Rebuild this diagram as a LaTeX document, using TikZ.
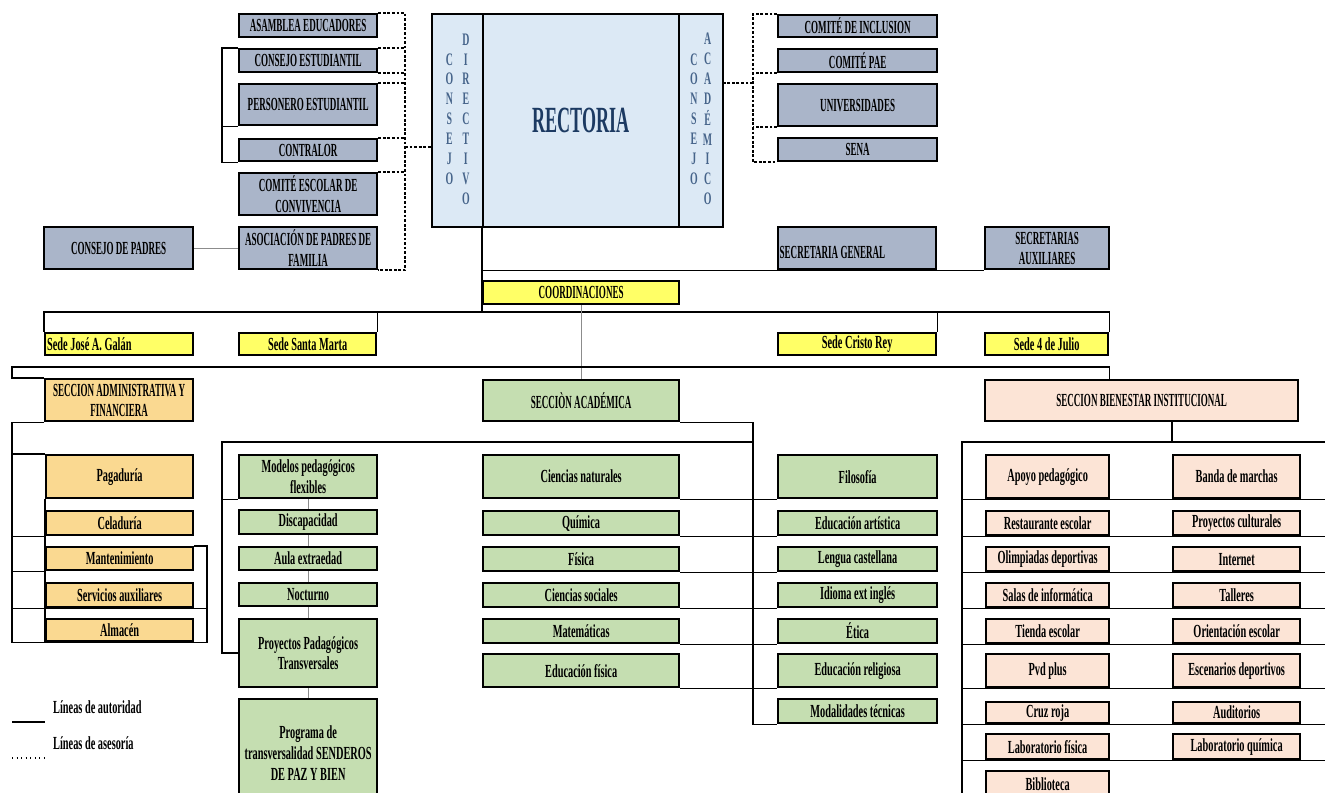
\documentclass[tikz,border=0pt]{standalone}
\usepackage{fontspec}
\setmainfont{Liberation Serif}
\newfontfamily\cond{Liberation Serif}[FakeStretch=0.56]
\newfontfamily\condc{Liberation Serif}[FakeStretch=0.49]
\usetikzlibrary{positioning}
\definecolor{orgblue}{RGB}{170,181,201}
\definecolor{coreblue}{RGB}{220,233,245}
\definecolor{vtext}{RGB}{70,100,138}
\definecolor{rectblue}{RGB}{28,58,98}
\definecolor{sedeyel}{RGB}{255,255,102}
\definecolor{admorange}{RGB}{250,217,145}
\definecolor{acagreen}{RGB}{197,222,177}
\definecolor{biesalmon}{RGB}{252,228,214}
\newcommand{\capsfont}{\condc\bfseries\fontsize{10.5}{11.5}\selectfont}
\newcommand{\lowfont}{\cond\bfseries\fontsize{10.5}{11.8}\selectfont}
\newcommand{\vfont}{\cond\bfseries\fontsize{10}{11.3}\selectfont}

\begin{document}
\begin{tikzpicture}[x=0.02cm,y=-0.02cm,
% Cell placement: left, top, right, bottom (pixels)
cell/.style n args={4}{anchor=north west,at={(#1,#2)},
	minimum width={(#3-#1)*0.02cm},minimum height={(#4-#2)*0.02cm}},
% Box styles
box/.style={draw,line width=1.3pt,inner sep=0pt,align=center},
org/.style={box,fill=orgblue,font=\capsfont},
core/.style={draw,line width=1.3pt,inner sep=0pt,fill=coreblue},
yel/.style={box,fill=sedeyel,font=\lowfont},
adm/.style={box,fill=admorange,font=\lowfont},
aca/.style={box,fill=acagreen,font=\lowfont},
bie/.style={box,fill=biesalmon,font=\lowfont},
% Line styles
auth/.style={line width=0.8pt},
adv/.style={line width=0.9pt,dash pattern=on 1.6pt off 1pt},
link/.style={line width=0.6pt,black!45},
]
\useasboundingbox (0,0) rectangle (1325,793);
\clip (0,0) rectangle (1325,793);

%% Rectoria and councils
\node (cdir) [core,cell={431}{13}{482}{226},font=\vfont,text=vtext]
  {\begin{tabular}[c]{@{}c@{}}C\\O\\N\\S\\E\\J\\O\end{tabular}\hspace{5pt}%
   \begin{tabular}[c]{@{}c@{}}D\\I\\R\\E\\C\\T\\I\\V\\O\end{tabular}};
\node (rect) [core,cell={482}{13}{678}{226},text=rectblue,
  font=\condc\bfseries\fontsize{21}{24}\selectfont] {RECTORIA};
\node (cacad) [core,cell={678}{13}{722}{226},font=\vfont,text=vtext]
  {\begin{tabular}[c]{@{}c@{}}C\\O\\N\\S\\E\\J\\O\end{tabular}\hspace{3pt}%
   \begin{tabular}[c]{@{}c@{}}A\\C\\A\\D\\É\\M\\I\\C\\O\end{tabular}};

%% Left advisers
\node (asam) [org,cell={238}{13}{376}{36}] {ASAMBLEA EDUCADORES};
\node (cest) [org,cell={238}{48}{376}{71}] {CONSEJO ESTUDIANTIL};
\node (pers) [org,cell={238}{83}{376}{124}] {PERSONERO ESTUDIANTIL};
\node (contr) [org,cell={238}{138}{376}{160}] {CONTRALOR};
\node (comes) [org,cell={238}{172}{376}{214}] {COMITÉ ESCOLAR DE\\CONVIVENCIA};
\node (asoc) [org,cell={238}{226}{376}{268}] {ASOCIACIÓN DE PADRES DE\\FAMILIA};
\node (cpad) [org,cell={43}{226}{192}{268}] {CONSEJO DE PADRES};

%% Right advisers and secretaries
\node (cinc) [org,cell={777}{14}{936}{36}] {COMITÉ DE INCLUSION};
\node (cpae) [org,cell={777}{48}{936}{71}] {COMITÉ PAE};
\node (univ) [org,cell={777}{83}{936}{125}] {UNIVERSIDADES};
\node (sena) [org,cell={777}{137}{936}{160}] {SENA};
\node (sgen) [org,cell={777}{226}{935}{268}]
  {\mbox{}\\\makebox[3.1cm][l]{SECRETARIA GENERAL}};
\node (saux) [org,cell={984}{226}{1108}{268}] {SECRETARIAS\\AUXILIARES};

%% Coordinations and sites
\node (coord) [yel,cell={482}{280}{678}{303},font=\capsfont] {COORDINACIONES};
\node (sede1) [yel,cell={44}{332}{192}{354}]
  {\makebox[2.88cm][l]{Sede José A. Galán}};
\node (sede2) [yel,cell={238}{332}{375}{354}] {Sede Santa Marta};
\node (sede3) [yel,cell={777}{332}{935}{354}] {Sede Cristo Rey};
\node (sede4) [yel,cell={984}{332}{1107}{354}] {Sede 4 de Julio};

%% Sections
\node (secadm) [adm,cell={44}{378}{192}{420},font=\capsfont]
  {SECCION ADMINISTRATIVA Y\\FINANCIERA};
\node (secaca) [aca,cell={482}{379}{678}{420},font=\capsfont] {SECCIÒN ACADÉMICA};
\node (secbie) [bie,cell={984}{379}{1297}{420},font=\capsfont]
  {SECCION BIENESTAR INSTITUCIONAL};

%% Administrative units
\node (pag) [adm,cell={45}{454}{192}{497}] {Pagaduría};
\node (cel) [adm,cell={45}{510}{192}{534}] {Celaduría};
\node (man) [adm,cell={45}{546}{192}{569}] {Mantenimiento};
\node (ser) [adm,cell={45}{582}{192}{606}] {Servicios auxiliares};
\node (alm) [adm,cell={45}{618}{192}{640}] {Almacén};

%% Academic units
\node (mod) [aca,cell={238}{454}{376}{497}] {Modelos pedagógicos\\flexibles};
\node (dis) [aca,cell={238}{509}{376}{533}] {Discapacidad};
\node (aul) [aca,cell={238}{546}{376}{569}] {Aula extraedad};
\node (noc) [aca,cell={238}{582}{376}{605}] {Nocturno};
\node (ppt) [aca,cell={238}{618}{376}{686}] {Proyectos Padagógicos\\Transversales};
\node (prog) [aca,cell={238}{698}{376}{806}]
  {Programa de\\transversalidad SENDEROS\\DE PAZ Y BIEN};
\node (cnat) [aca,cell={482}{454}{678}{497}] {Ciencias naturales};
\node (qui) [aca,cell={482}{510}{678}{534}] {Química};
\node (fis) [aca,cell={482}{546}{678}{570}] {Física};
\node (csoc) [aca,cell={482}{582}{678}{606}] {Ciencias sociales};
\node (mat) [aca,cell={482}{618}{678}{642}] {Matemáticas};
\node (edf) [aca,cell={482}{653}{678}{686}] {Educación física};
\node (filo) [aca,cell={777}{454}{936}{497}] {Filosofía};
\node (edart) [aca,cell={777}{510}{936}{534}] {Educación artística};
\node (leng) [aca,cell={777}{546}{936}{570}] {Lengua castellana};
\node (idio) [aca,cell={777}{582}{936}{606}] {Idioma ext inglés};
\node (etica) [aca,cell={777}{618}{936}{642}] {Ética};
\node (edrel) [aca,cell={777}{653}{936}{686}] {Educación religiosa};
\node (modt) [aca,cell={777}{698}{936}{722}] {Modalidades técnicas};

%% Welfare units
\node (apoyo) [bie,cell={985}{454}{1108}{497}] {Apoyo pedagógico};
\node (rest) [bie,cell={985}{510}{1108}{534}] {Restaurante escolar};
\node (olim) [bie,cell={985}{546}{1108}{570}] {Olimpiadas deportivas};
\node (salas) [bie,cell={985}{582}{1108}{606}] {Salas de informática};
\node (tienda) [bie,cell={985}{618}{1108}{642}] {Tienda escolar};
\node (pvd) [bie,cell={985}{653}{1108}{686}] {Pvd plus};
\node (cruz) [bie,cell={985}{701}{1108}{722}] {Cruz roja};
\node (labf) [bie,cell={985}{733}{1108}{758}] {Laboratorio física};
\node (bibl) [bie,cell={985}{770}{1108}{797}] {Biblioteca};
\node (banda) [bie,cell={1172}{454}{1299}{497}] {Banda de marchas};
\node (pcult) [bie,cell={1172}{510}{1299}{534}] {Proyectos culturales};
\node (inter) [bie,cell={1172}{546}{1299}{570}] {Internet};
\node (tall) [bie,cell={1172}{582}{1299}{606}] {Talleres};
\node (orie) [bie,cell={1172}{618}{1299}{642}] {Orientación escolar};
\node (esce) [bie,cell={1172}{653}{1299}{686}] {Escenarios deportivos};
\node (audi) [bie,cell={1172}{701}{1299}{722}] {Auditorios};
\node (labq) [bie,cell={1172}{733}{1299}{758}] {Laboratorio química};

%% Rails and buses
\coordinate (lbus) at (405,0);
\coordinate (dlink) at (405,147);
\coordinate (sbar) at (222,0);
\coordinate (rbus) at (753,0);
\coordinate (alink) at (753,83);
\coordinate (sedebus) at (0,312);
\coordinate (secbus) at (0,367);
\coordinate (lrail) at (12,0);
\coordinate (arail) at (207,0);
\coordinate (subbus) at (0,442);
\coordinate (brail) at (962,0);
\coordinate (redge) at (1325,0);

%% Advisory lines
\draw[adv] (asam.north east) -- (asam.north east -| lbus)
  -- (asoc.south east -| lbus) -- (asoc.south east);
\foreach \n/\a in {cest/north east,cest/south east,pers/north east,
  contr/north east,comes/north east}
  \draw[adv] (\n.\a) -- (\n.\a -| lbus);
\draw[adv] (dlink) -- (dlink -| cdir.west);
\draw[adv] (cinc.north west) -- (cinc.north west -| rbus)
  -- (sena.south west -| rbus) -- (sena.south west);
\foreach \n in {cpae,univ}
  \draw[adv] (\n.south west) -- (\n.south west -| rbus);
\draw[adv] (alink) -- (alink -| cacad.east);

%% Authority lines
\draw[auth] (cest.north west) -- (cest.north west -| sbar)
  -- (contr.south west -| sbar) -- (contr.south west);
\draw[auth] (pers.south west -| sbar) -- (pers.south west);
\draw[link] (cpad) -- (asoc);
\draw[auth] (rect.south west) -- (rect.south west |- sedebus);
\draw[auth] (rect.south west |- saux.south west) -- (saux.south west);
\draw[auth] (sede1.north west) -- (sede1.north west |- sedebus)
  -- (sede4.north east |- sedebus) -- (sede4.north east);
\foreach \n in {sede2,sede3}
  \draw[auth] (\n.north east) -- (\n.north east |- sedebus);
\draw[link] (coord) -- (secaca);
\draw[auth] (secadm.north west) -- (secadm.north west -| lrail)
  -- (lrail |- secbus) -- (sede4.north east |- secbus)
  -- (sede4.north east |- secbie.north);

% administrative
\draw[auth] (secadm.south west) -- (secadm.south west -| lrail)
  -- (lrail |- alm.south) -- (alm.south -| arail)
  -- (man.north east -| arail) -- (man.north east);
\draw[auth] (pag.north west) -- (pag.north west -| lrail);
\foreach \n in {cel,man}
  \draw[auth] (\n.south west) -- (\n.south west -| lrail);
\draw[auth] (ser.south -| lrail) -- (ser.south -| arail);
\draw[auth] (pag.south west) -- (alm.south west);

% academic
\draw[auth] (secaca.south east) -- (secaca.south east -| rbus)
  -- (rbus |- modt.south) -- (modt.south west);
\draw[auth] (rbus |- subbus) -- (subbus -| sbar)
  -- (sbar |- ppt.west) -- (ppt.west);
\draw[auth] (mod.south west -| sbar) -- (mod.south west);
\foreach \a/\b in {mod/dis,dis/aul,aul/noc,noc/ppt,ppt/prog}
  \draw[link] (\a) -- (\b);
\foreach \a/\b in {cnat/filo,qui/edart,fis/leng,csoc/idio,mat/etica,edf/edrel}
  \draw[auth] (\a.south east) -- (\b.south west);

% welfare
\draw[auth] (banda.north west |- secbie.south) -- (banda.north west |- subbus);
\draw[auth] (brail |- 0,793) -- (brail |- subbus) -- (redge |- subbus);
\foreach \n in {apoyo,rest,olim,salas,tienda,pvd,cruz,labf}
  \draw[auth] (\n.south -| brail) -- (\n.south -| redge);

%% Legend
\node (leg1) [anchor=west,font=\lowfont] at (47,707) {Líneas de autoridad};
\node (leg2) [anchor=west,font=\lowfont] at (47,743) {Líneas de asesoría};
\draw[line width=1.2pt] (12,722) -- (45,722);
\draw[line width=0.6pt,dotted] (12,758) -- (45,758);

\end{tikzpicture}
\end{document}
